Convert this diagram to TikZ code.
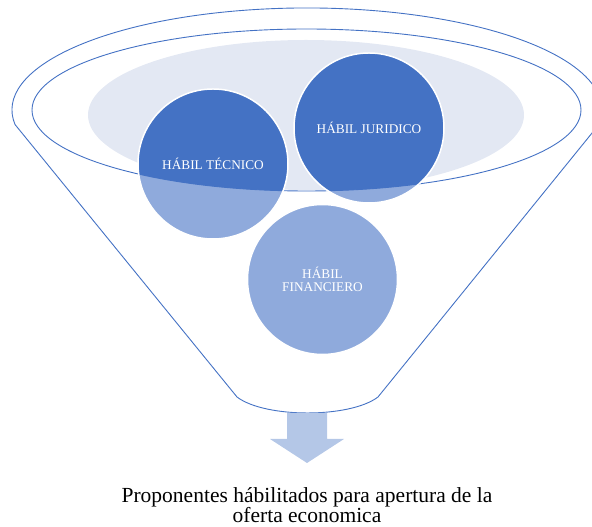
\documentclass[tikz,border=0pt]{standalone}
\usepackage{fontspec}
\setmainfont{Liberation Serif}
\usepackage{tikz}
\definecolor{embudo}{HTML}{4472C4}
\definecolor{claro}{HTML}{8FAADC}
\definecolor{boca}{HTML}{E3E8F3}
\definecolor{flecha}{HTML}{B4C7E7}
\tikzset{burbuja/.style={circle, draw=white, line width=1.5pt, minimum size=150pt, inner sep=0pt, text=white, align=center, font=\fontsize{13.3}{13}\selectfont}}

\begin{document}
\begin{tikzpicture}[x=1pt,y=1pt]
	\useasboundingbox (0,0) rectangle (592,527);
	% embudo
	\draw[embudo, line width=0.9pt] (15,402.5) arc[start angle=188.2, end angle=-8.2, x radius=295, y radius=102] -- (378,130) .. controls (350,108.7) and (265,108.7) .. (237,130) -- cycle;
	\fill[boca] (306,412) ellipse[x radius=218, y radius=75];
	
	\coordinate (ctec) at (213,363);
	\coordinate (cjur) at (369,399);
	\coordinate (cfin) at (322.5,247.5);
	\fill[claro] (ctec) circle (75);
	\fill[claro] (cjur) circle (75);
	\fill[claro] (cfin) circle (75);
	\begin{scope}
		\clip (306.5,417) ellipse[x radius=274.5, y radius=81];
		\fill[embudo] (ctec) circle (75);
		\fill[embudo] (cjur) circle (75);
	\end{scope}
	\draw[embudo, line width=0.9pt] (306.5,417) ellipse[x radius=274.5, y radius=81];
	
	\node[burbuja] (tecnico) at (ctec) {HÁBIL TÉCNICO};
	\node[burbuja] (juridico) at (cjur) {HÁBIL JURIDICO};
	\node[burbuja] (financiero) at (cfin) {HÁBIL\\FINANCIERO};
	
	% flecha
	\fill[flecha] (287,114) -- (327,114) -- (327,88) -- (344,88) -- (307,64) -- (270,88) -- (287,88) -- cycle;
	\node[align=center, inner sep=0pt, font=\fontsize{21.5}{20.5}\selectfont] (texto) at (307,22) {Proponentes hábilitados para apertura de la\\oferta economica};
\end{tikzpicture}
\end{document}
